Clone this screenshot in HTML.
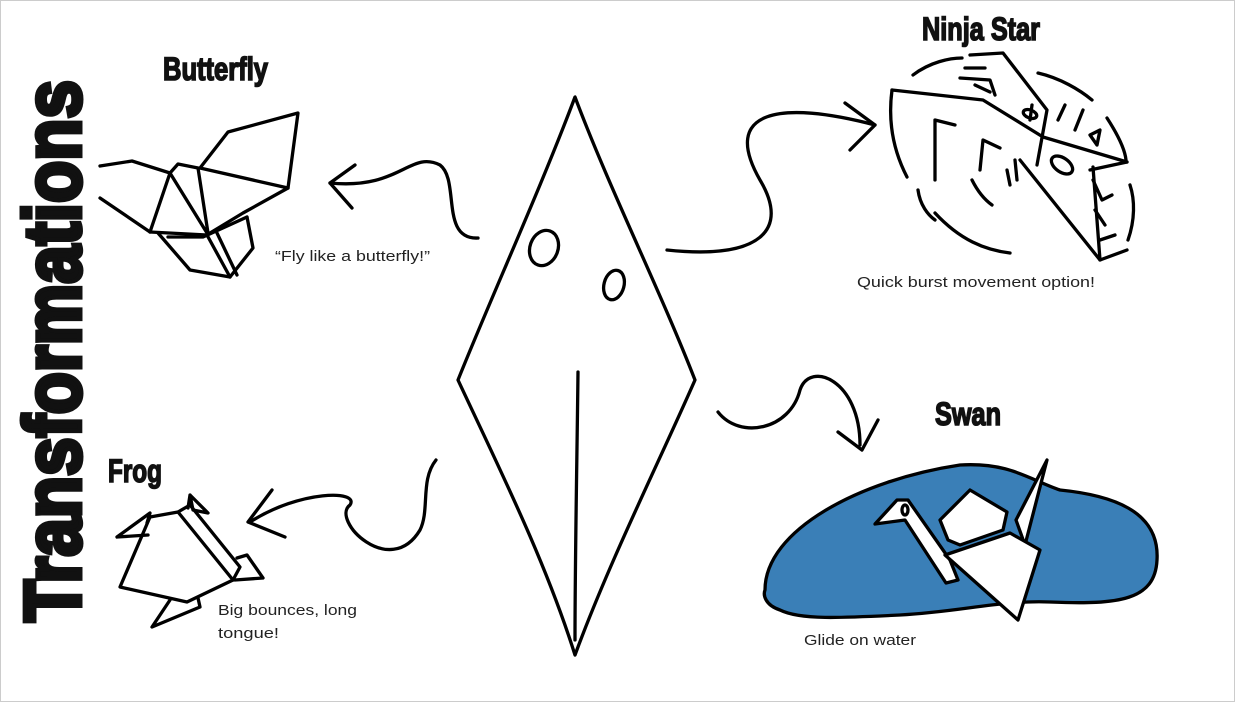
<!DOCTYPE html>
<html><head><meta charset="utf-8"><style>
html,body{margin:0;padding:0;background:#fff;}
svg{display:block;}
.t{font-family:"Liberation Sans Narrow","Liberation Sans",sans-serif;font-weight:bold;fill:#111;stroke:#111;stroke-width:1.6;}
.s{font-family:"Liberation Sans",sans-serif;font-size:15px;fill:#222;}
</style></head><body>
<svg width="1235" height="702" viewBox="0 0 1235 702" xmlns="http://www.w3.org/2000/svg">
<rect x="0.5" y="0.5" width="1234" height="701" fill="#fff" stroke="#ccc"/>
<g fill="none" stroke="#000" stroke-width="3.3" stroke-linecap="round" stroke-linejoin="round">
<!-- diamond -->
<path d="M575,97 C540,190 490,300 458,380 C500,470 545,560 575,655 C610,560 660,460 695,380 C660,290 610,190 575,97Z"/>
<ellipse cx="544" cy="248" rx="14" ry="18" transform="rotate(20 544 248)"/>
<ellipse cx="614" cy="285" rx="10" ry="15" transform="rotate(15 614 285)"/>
<path d="M578,372 C577,460 575,560 575,640"/>
<!-- arrows -->
<path d="M478,238 C440,240 460,180 440,165 C410,150 400,190 330,183"/>
<path d="M355,165 L330,183 L352,208"/>
<path d="M667,250 C760,260 790,230 760,180 C720,110 780,100 875,125"/>
<path d="M845,103 L875,125 L850,150"/>
<path d="M718,412 C740,440 790,430 800,390 C810,360 860,380 860,445"/>
<path d="M838,432 L862,450 L878,420"/>
<path d="M436,460 C420,480 430,510 420,530 C390,580 330,520 350,505 C360,490 300,490 250,522"/>
<path d="M272,490 L248,522 L285,537"/>
<!-- butterfly -->
<path d="M200,168 L228,132 L298,113 L288,188 L200,168"/>
<path d="M100,166 L132,161 L170,173 L178,164 L198,168"/>
<path d="M100,198 L150,232 L207,235"/>
<path d="M170,173 L150,232 M170,173 L207,233 M198,168 L208,233"/>
<path d="M288,188 L243,213 L210,233"/>
<path d="M158,233 L190,270 L230,277 L253,248 L247,217"/>
<path d="M207,235 L230,277 M217,233 L237,275 M168,237 L203,237 L247,217"/>
<!-- ninja star -->
<path d="M892,90 L983,100 L1043,137 L1127,162"/>
<path d="M892,90 C888,120 893,150 907,177"/>
<path d="M970,55 L1003,53 L1047,110 L1037,165"/>
<path d="M1020,160 L1100,260 L1127,250"/>
<path d="M1093,167 L1100,260"/>
<path d="M1127,162 L1090,170"/>
<ellipse cx="1030" cy="114" rx="7" ry="4" transform="rotate(20 1030 114)"/>
<ellipse cx="1062" cy="165" rx="12" ry="7" transform="rotate(35 1062 165)"/>
<path d="M935,213 C960,240 985,250 1010,253"/>
<path d="M913,75 C930,62 950,58 962,58"/>
<path d="M1038,73 C1060,78 1080,90 1092,100"/>
<path d="M1107,118 C1118,135 1125,150 1126,160"/>
<path d="M935,180 L935,120 L955,125 M918,190 C920,205 928,215 935,220"/>
<path d="M980,170 L983,140 L1000,148 M972,180 C978,192 985,200 992,205"/>
<path d="M1015,160 L1017,180 M1007,170 L1010,185"/>
<path d="M1030,120 L1032,105 M1058,120 L1065,105 M1075,130 L1083,110 M1090,135 L1100,130 L1097,145 Z"/>
<path d="M960,78 L990,80 L995,95 M965,68 L985,68 M975,85 L990,92"/>
<path d="M1093,180 L1102,200 L1112,195 M1095,210 L1105,225 M1100,240 L1115,235 M1130,185 C1135,200 1135,220 1128,240"/>
<!-- frog -->
<path d="M120,587 L150,517 L178,512 L233,580 L187,602 Z" fill="#fff"/>
<path d="M178,512 L190,505 L240,567 L233,580"/>
<path d="M117,537 L150,513 L147,523 M117,537 L148,535"/>
<path d="M190,495 L208,513 L193,510 Z M190,495 L188,508"/>
<path d="M237,558 L247,555 L263,578 L235,580"/>
<path d="M170,600 L152,627 L200,607 L198,598"/>
<!-- pond -->
<path d="M765,590 C765,530 860,480 960,465 C1010,462 1030,480 1060,490 C1110,495 1160,510 1157,560 C1155,600 1120,605 1050,602 C1000,600 960,612 900,615 C840,618 800,620 780,610 C765,605 763,595 765,590Z" fill="#3a7fb7"/>
<!-- swan -->
<path d="M875,524 L897,500 L908,500 L950,560 L958,580 L946,583 L905,520 Z" fill="#fff"/>
<path d="M940,520 L970,490 L1007,512 L1003,530 L960,545 L948,540 Z" fill="#fff"/>
<path d="M1016,520 L1047,460 L1025,545 Z" fill="#fff"/>
<path d="M945,555 L1010,533 L1040,550 L1018,620 Z" fill="#fff"/>
<ellipse cx="905" cy="510" rx="3" ry="5"/>
</g>
<text class="t" transform="translate(80,622) rotate(-90)" textLength="542" lengthAdjust="spacingAndGlyphs" style="font-size:80px;stroke-width:5">Transformations</text>
<text class="t" x="163" y="80" font-size="32" textLength="105" lengthAdjust="spacingAndGlyphs">Butterfly</text>
<text class="t" x="922" y="40" font-size="32" textLength="118" lengthAdjust="spacingAndGlyphs">Ninja Star</text>
<text class="t" x="935" y="425" font-size="32" textLength="66" lengthAdjust="spacingAndGlyphs">Swan</text>
<text class="t" x="108" y="482" font-size="32" textLength="54" lengthAdjust="spacingAndGlyphs">Frog</text>
<text class="s" x="275" y="261" textLength="155" lengthAdjust="spacingAndGlyphs">“Fly like a butterfly!”</text>
<text class="s" x="857" y="287" textLength="238" lengthAdjust="spacingAndGlyphs">Quick burst movement option!</text>
<text class="s" x="218" y="615" textLength="139" lengthAdjust="spacingAndGlyphs">Big bounces, long</text>
<text class="s" x="218" y="638" textLength="61" lengthAdjust="spacingAndGlyphs">tongue!</text>
<text class="s" x="804" y="645" textLength="112" lengthAdjust="spacingAndGlyphs">Glide on water</text>
</svg>
</body></html>
